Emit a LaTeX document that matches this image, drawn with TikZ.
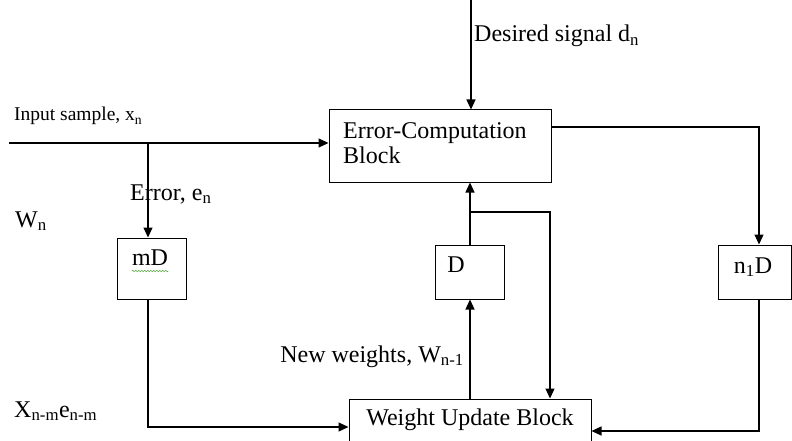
\documentclass[tikz,border=0pt]{standalone}
\usepackage{fontspec}
\setmainfont{Liberation Serif}
\usetikzlibrary{arrows.meta, decorations.pathmorphing}
\definecolor{spellgreen}{RGB}{90,170,70}
\tikzset{
  box/.style={rectangle, draw=black, line width=1pt, inner sep=0pt},
  lbl/.style={font=\fontsize{24}{25}\selectfont, inner sep=0pt},
  smalllbl/.style={font=\fontsize{19.5}{22}\selectfont, inner sep=0pt},
  arrow/.style={-{Triangle[length=10pt,width=9pt]}, line width=1.2pt},
  squiggle/.style={draw=spellgreen, line width=0.6pt, decorate,
    decoration={snake, amplitude=0.8pt, segment length=3pt}}
}

\begin{document}
\begin{tikzpicture}[x=1pt, y=-1pt]
  \useasboundingbox (0,0) rectangle (792,441);
  % blocks
  \node[box, minimum width=222pt, minimum height=72pt] (errbox) at (440,146) {};
  \node[box, minimum width=69pt, minimum height=61pt] (mdbox) at (151.5,268.5) {};
  \node[box, minimum width=69pt, minimum height=54pt] (dbox) at (470,272) {};
  \node[box, minimum width=73pt, minimum height=54pt] (nbox) at (755,272) {};
  \node[box, minimum width=242pt, minimum height=61pt] (wub) at (470,429.5) {};
  \node[lbl, anchor=north west, align=left] (errtext) at (343,122.5) {Error-Computation\\Block};
  \node[lbl, anchor=base] (mdtext) at (150,265) {mD};
  \node[lbl, anchor=base] (dtext) at (456,272) {D};
  \node[lbl, anchor=base] (ntext) at (753,273) {n\textsubscript{1}D};
  \node[lbl, anchor=base] (wubtext) at (470,425) {Weight Update Block};
  \draw[squiggle] ([yshift=-6pt]mdtext.base west) -- ([yshift=-6pt]mdtext.base east);
  % labels
  \node[lbl, anchor=base west] (desired) at (474,42) {Desired signal d\textsubscript{n}};
  \node[smalllbl, anchor=base west] (input) at (14,121) {Input sample, x\textsubscript{n}};
  \node[lbl, anchor=base west] (error) at (130,200) {Error, e\textsubscript{n}};
  \node[lbl, anchor=base west] (wn) at (15,227) {W\textsubscript{n}};
  \node[lbl, anchor=base west] (xe) at (14,417) {X\textsubscript{n-m}e\textsubscript{n-m}};
  \node[lbl, anchor=base east] (neww) at (464,362) {New weights, W\textsubscript{n-1}};
  % connectors
  \coordinate (dsrc) at (471,0);
  \coordinate (xsrc) at (9,143);
  \coordinate (xtap) at (148,143);
  \coordinate (wtap) at (470,212);
  \coordinate (wturn) at (550,212);
  \coordinate (eturn) at (759,127);
  \draw[arrow] (dsrc) -- (dsrc |- errbox.north);
  \draw[arrow] (xsrc) -- (xsrc -| errbox.west);
  \draw[arrow] (xtap) -- (xtap |- mdbox.north);
  \draw[arrow] (xtap |- mdbox.south) |- ([yshift=2.5pt]wub.west);
  \draw[arrow] (wub.north -| dbox) -- (dbox.south);
  \draw[arrow] (dbox.north) -- (dbox.north |- errbox.south);
  \draw[arrow] (wtap) -- (wturn) -- (wturn |- wub.north);
  \draw[arrow] (eturn -| errbox.east) -- (eturn) -- (eturn |- nbox.north);
  \draw[arrow] (eturn |- nbox.south) |- ([yshift=-1.5pt]wub.east);
\end{tikzpicture}
\end{document}
